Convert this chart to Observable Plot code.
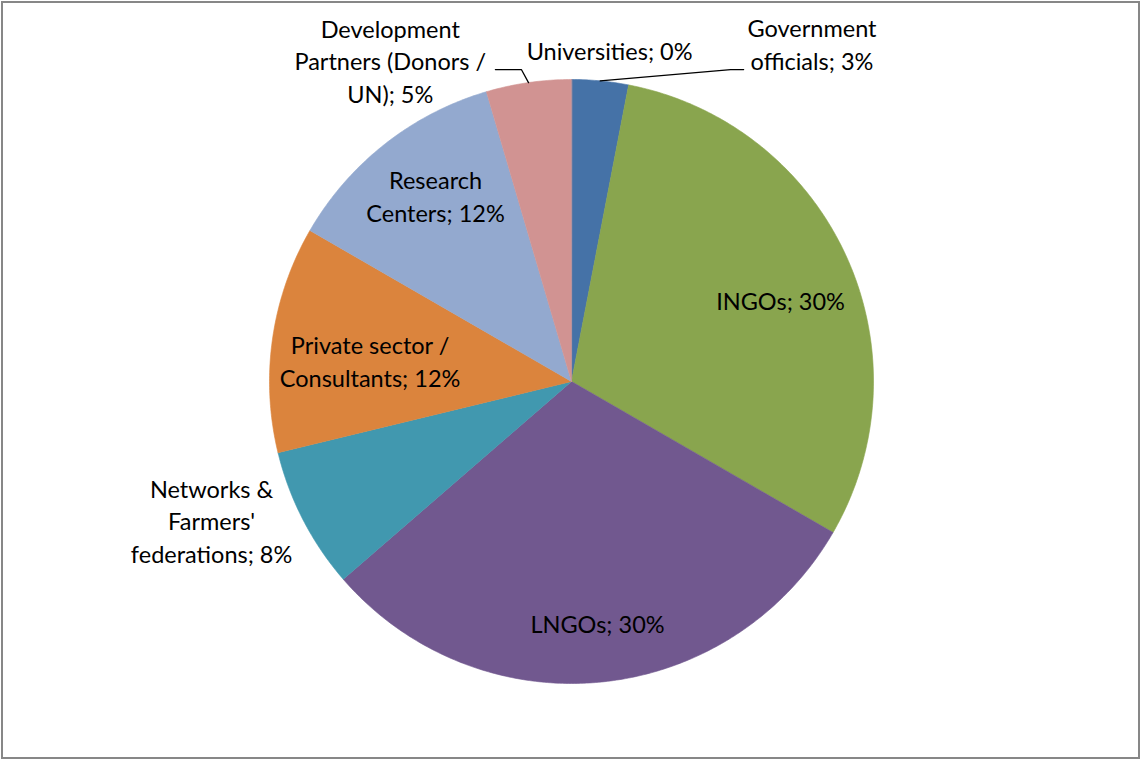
<!DOCTYPE html>
<html>
<head>
<meta charset="utf-8">
<script src="https://cdn.jsdelivr.net/npm/d3@7"></script>
<script src="https://cdn.jsdelivr.net/npm/@observablehq/plot@0.6"></script>
<style>
  html, body { margin: 0; padding: 0; background: #fff; }
  #wrap { position: relative; width: 1141px; height: 760px; }
  #border { position: absolute; left: 1px; top: 1px; width: 1139px; height: 758px; border: 2px solid #878787; box-sizing: border-box; pointer-events: none; }
  svg { display: block; }
</style>
</head>
<body>
<div id="wrap"><div id="chart"></div><div id="border"></div></div>
<script>
// ---- data ----
const categories = ["Government officials", "INGOs", "LNGOs", "Networks & Farmers' federations",
  "Private sector / Consultants", "Research Centers", "Development Partners (Donors / UN)", "Universities"];
const labelNames = ["Government\nofficials", "INGOs", "LNGOs", "Networks &\nFarmers'\nfederations",
  "Private sector /\nConsultants", "Research\nCenters", "Development\nPartners (Donors /\nUN)", "Universities"];
const counts = [2, 20, 20, 5, 8, 8, 3, 0];
const colors = ["#4572A7", "#89A54E", "#71588F", "#4198AF", "#DB843D", "#93A9CF", "#D19392", "#AA4643"];

// ---- label layout (angle in degrees clockwise from top, radius as fraction of pie radius) ----
const labelLayout = {
  "Government officials": {angle: 35.6, r: 1.368, leader: [[0.527, 1.033], [0.57, 1.033]]},
  "INGOs": {angle: 69.3, r: 0.74},
  "LNGOs": {angle: 173.9, r: 0.81},
  "Networks & Farmers' federations": {angle: 248.6, r: 1.28},
  "Private sector / Consultants": {angle: 275.4, r: 0.67},
  "Research Centers": {angle: 323.5, r: 0.757},
  "Development Partners (Donors / UN)": {angle: 330.4, r: 1.215, leader: [[-0.166, 1.033], [-0.252, 1.033]]},
  "Universities": {angle: 6.6, r: 1.097}
};

const total = d3.sum(counts);
const data = categories.map((c, i) => ({name: c, label: labelNames[i], value: counts[i]}));
const arcs = d3.pie().sort(null).value(d => d.value)(data);

const polar = (a, r) => [r * Math.sin(a), r * Math.cos(a)];

// slice outlines
const slicePts = [];
arcs.forEach(a => {
  if (a.endAngle - a.startAngle <= 0) return;
  slicePts.push({name: a.data.name, x: 0, y: 0});
  const n = Math.max(2, Math.ceil((a.endAngle - a.startAngle) / 0.01));
  for (let k = 0; k <= n; k++) {
    const t = a.startAngle + (a.endAngle - a.startAngle) * k / n;
    const [x, y] = polar(t, 1);
    slicePts.push({name: a.data.name, x, y});
  }
});

// labels
const labels = arcs.map(a => {
  const L = labelLayout[a.data.name];
  const [x, y] = polar(L.angle * Math.PI / 180, L.r);
  const pct = Math.round(100 * a.data.value / total) + "%";
  return {name: a.data.name, text: a.data.label + "; " + pct, x, y};
});

// leader lines
const leaderPts = [];
arcs.forEach(a => {
  const L = labelLayout[a.data.name];
  if (!L.leader) return;
  const mid = (a.startAngle + a.endAngle) / 2;
  const [x0, y0] = polar(mid, 1);
  leaderPts.push({name: a.data.name, x: x0, y: y0});
  L.leader.forEach(([x, y]) => leaderPts.push({name: a.data.name, x, y}));
});

const chart = Plot.plot({
  width: 1141,
  height: 760,
  marginLeft: 269,
  marginRight: 268,
  marginTop: 79,
  marginBottom: 77,
  x: {domain: [-1, 1], axis: null},
  y: {domain: [-1, 1], axis: null},
  color: {domain: categories, range: colors},
  style: {fontFamily: "Lato, sans-serif", background: "white"},
  marks: [
    Plot.line(slicePts, {x: "x", y: "y", z: "name", fill: "name", stroke: "name", strokeWidth: 0.6, curve: "linear-closed"}),
    Plot.line(leaderPts, {x: "x", y: "y", z: "name", stroke: "black", strokeWidth: 1.3, curve: "linear"}),
    Plot.text(labels, {x: "x", y: "y", text: "text", fill: "black", fontSize: 23.5, lineHeight: 1.39, dy: -2.5, textAnchor: "middle"})
  ]
});
document.getElementById("chart").appendChild(chart);
</script>
</body>
</html>
